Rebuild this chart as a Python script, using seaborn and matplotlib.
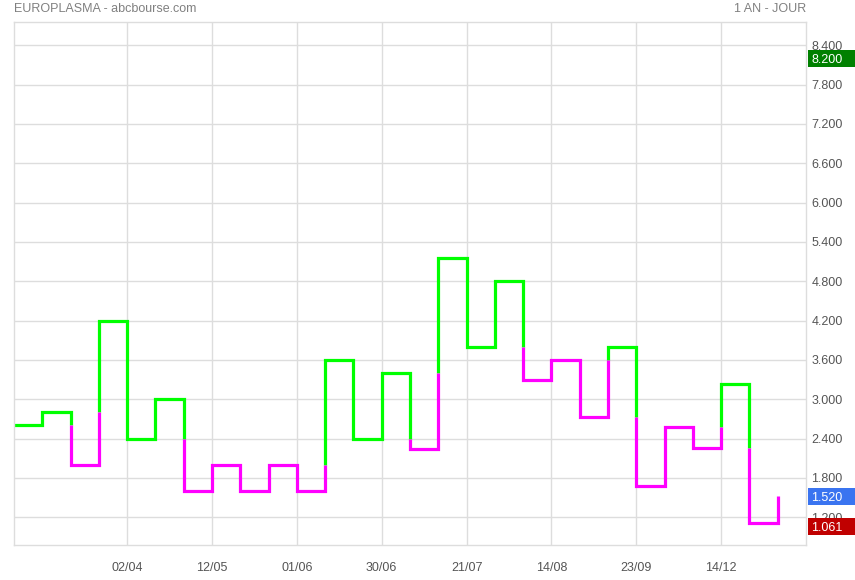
import numpy as np
import pandas as pd
import matplotlib
matplotlib.use("Agg")
import matplotlib.pyplot as plt
import matplotlib.transforms as mtransforms
from matplotlib.patches import Rectangle
import seaborn as sns

# ---- data ----
levels = [2.60, 2.80, 2.00, 4.20, 2.40, 3.00, 1.60, 2.00, 1.60, 2.00, 1.60,
          3.60, 2.40, 3.40, 2.24, 5.15, 3.80, 4.80, 3.30, 3.60, 2.73, 3.80,
          1.67, 2.58, 2.25, 3.24, 1.11, 1.52]
date_pos = [4, 7, 10, 13, 16, 19, 22, 25]
date_labels = ["02/04", "12/05", "01/06", "30/06", "21/07", "14/08", "23/09", "14/12"]
y_ticks = [1.2, 1.8, 2.4, 3.0, 3.6, 4.2, 4.8, 5.4, 6.0, 6.6, 7.2, 7.8, 8.4]
high_val, last_val, low_val = 8.200, 1.520, 1.061
title_left = "EUROPLASMA - abcbourse.com"
title_right = "1 AN - JOUR"

YANG = "#00ff00"
YIN = "#ff00ff"

# ---- build kagi runs ----
rows = []
seg = 0
state = "yang"
run = [(0, levels[0]), (1, levels[0])]
shoulder = None
waist = levels[0]

def flush(run, color, seg):
    for i, (x, y) in enumerate(run):
        rows.append(dict(x=x, y=y, seg=seg, color=color, order=i))

for k in range(1, len(levels)):
    a, b = levels[k - 1], levels[k]
    if b > a:
        if state == "yin" and shoulder is not None and b > shoulder:
            run.append((k, shoulder))
            flush(run, state, seg); seg += 1
            state = "yang"
            run = [(k, shoulder)]
        run.append((k, b))
        shoulder = b
    else:
        if state == "yang" and waist is not None and b < waist:
            run.append((k, waist))
            flush(run, state, seg); seg += 1
            state = "yin"
            run = [(k, waist)]
        run.append((k, b))
        waist = b
    if k < len(levels) - 1:
        run.append((k + 1, b))
flush(run, state, seg)
df = pd.DataFrame(rows)

# ---- plot ----
sns.set_theme(style="white")
plt.rcParams["font.family"] = ["Liberation Sans", "DejaVu Sans"]
fig = plt.figure(figsize=(8.55, 5.8), dpi=100)
ax = fig.add_axes([14 / 855, 1 - 545 / 580, 792 / 855, 523 / 580])

sns.lineplot(data=df, x="x", y="y", hue="color", units="seg", estimator=None,
             sort=False, palette={"yang": YANG, "yin": YIN}, legend=False,
             linewidth=2.3, ax=ax)
for line in ax.get_lines():
    line.set_solid_joinstyle("miter")
    line.set_solid_capstyle("butt")

ax.set_xlim(0, 28)
ax.set_ylim(0.777, 8.755)
ax.set_xlabel("")
ax.set_ylabel("")

grid_c = "#dddddd"
ax.set_yticks(y_ticks)
ax.set_yticklabels([f"{v:.3f}" for v in y_ticks])
ax.set_xticks(date_pos)
ax.set_xticklabels(date_labels)
ax.yaxis.tick_right()
ax.tick_params(axis="y", length=0, pad=4, labelsize=9, labelcolor="#555555")
ax.tick_params(axis="x", length=0, pad=12, labelsize=9, labelcolor="#555555")
for t in ax.get_yticklabels():
    t.set_horizontalalignment("left")
ax.grid(True, color=grid_c, linewidth=1)
ax.set_axisbelow(True)
for s in ax.spines.values():
    s.set_visible(True)
    s.set_color(grid_c)
    s.set_linewidth(1)

# value boxes on the right
trans = mtransforms.blended_transform_factory(ax.transAxes, ax.transData)
ppu = 523 / (8.755 - 0.777)
half = 8.5 / ppu
x0 = (808 - 14) / 792
w = (856 - 808) / 792
for val, col in [(high_val, "#008000"), (last_val, "#3a74f0"), (low_val, "#c00000")]:
    ax.add_patch(Rectangle((x0, val - half), w, 2 * half, transform=trans,
                           facecolor=col, edgecolor="none", clip_on=False, zorder=5))
    ax.text((811 - 14) / 792, val, f"{val:.3f}", transform=trans, color="white",
            fontsize=9, ha="left", va="center_baseline", zorder=6, clip_on=False)

fig.text(14 / 855, 1 - 9 / 580, title_left, ha="left", va="center",
         fontsize=9, color="#808080")
fig.text(806 / 855, 1 - 9 / 580, title_right, ha="right", va="center",
         fontsize=9, color="#808080")

fig.savefig("out.png", dpi=100)
